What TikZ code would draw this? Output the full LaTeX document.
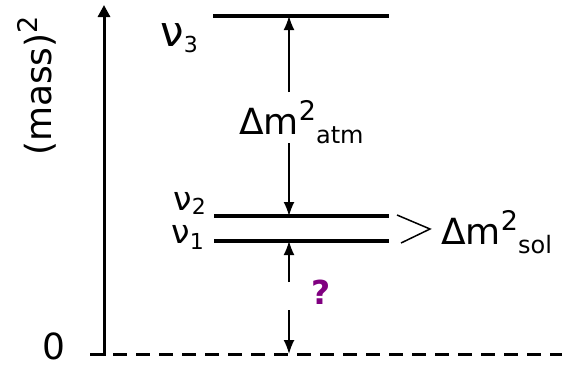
\documentclass[tikz,border=0pt]{standalone}
\usepackage{fontspec}
\setmainfont{DejaVu Sans}
\usepackage{xcolor}
\usepackage{tikz}
\usetikzlibrary{arrows.meta,positioning}
\definecolor{mpurple}{HTML}{800080}
\newcommand{\dmsq}[1]{Δm\raisebox{14pt}{\fontsize{27}{27}\selectfont 2}\raisebox{-9pt}{\fontsize{24}{24}\selectfont #1}}
\newcommand{\nulbl}[3]{{\fontsize{#1}{#1}\selectfont ν}\raisebox{#3}{\fontsize{22}{22}\selectfont #2}}
\tikzset{
  >={Latex[length=14pt,width=11pt]},
  maxis/.style={black, line width=3pt, -{Triangle[length=12pt,width=12pt]}},
  mlevel/.style={black, line width=3.4pt},
  mzero/.style={black, line width=3.2pt, dash pattern=on 14pt off 9pt},
  mgap/.style={->, black, line width=1.6pt},
  msol/.style={black, line width=1.5pt},
  mlbl/.style={font=\fontsize{36}{38}\selectfont, inner sep=0pt},
  mq/.style={mpurple, font=\fontsize{33}{35}\selectfont\bfseries, inner sep=0pt},
}
\begin{document}
\begin{tikzpicture}[x=1pt, y=-1pt]
  \useasboundingbox (0,0) rectangle (562,367);

  % eixo
  \coordinate (o) at (104,356);
  \coordinate (top) at (104,5);
  \draw[maxis] (o) -- (top);
  \draw[mlevel] (90,354.5) -- (104,354.5);
  \draw[mzero] (113,354.5) -- (562,354.5);
  \node[mlbl, anchor=base east] (zero) at (66,359) {0};
  \node[mlbl, rotate=90] (mass) at (37,86) {(mass)\raisebox{14pt}{\fontsize{27}{27}\selectfont 2}};

  % niveis
  \draw[mlevel] (213,16) -- (389,16);
  \draw[mlevel] (214,216) -- (389,216);
  \draw[mlevel] (214,241) -- (389,241);
  \node[mlbl, anchor=base east] (nu3) at (198,46) {\nulbl{42}{3}{-6pt}};
  \node[mlbl, anchor=base east] (nu2) at (206,210) {\nulbl{33}{2}{-4pt}};
  \node[mlbl, anchor=base east] (nu1) at (204,243) {\nulbl{33}{1}{-6pt}};

  % atm
  \coordinate (a3) at (289,16);
  \coordinate (a2) at (289,216);
  \coordinate (t3) at (289,92);
  \coordinate (t2) at (289,143);
  \node[mlbl, anchor=base west] (atm) at (239,134) {\dmsq{atm}};
  \draw[mgap] (t3) -- (a3);
  \draw[mgap] (t2) -- (a2);

  % sol
  \draw[msol] (397,215) -- (430,229) -- (401,243);
  \node[mlbl, anchor=base west] (sol) at (441,244) {\dmsq{sol}};

  % ?
  \coordinate (a1) at (289,241);
  \coordinate (a0) at (289,354);
  \coordinate (t1) at (289,282);
  \coordinate (t0) at (289,310);
  \node[mq] (q) at (321,292) {?};
  \draw[mgap] (t1) -- (a1);
  \draw[mgap] (t0) -- (a0);

\end{tikzpicture}
\end{document}
